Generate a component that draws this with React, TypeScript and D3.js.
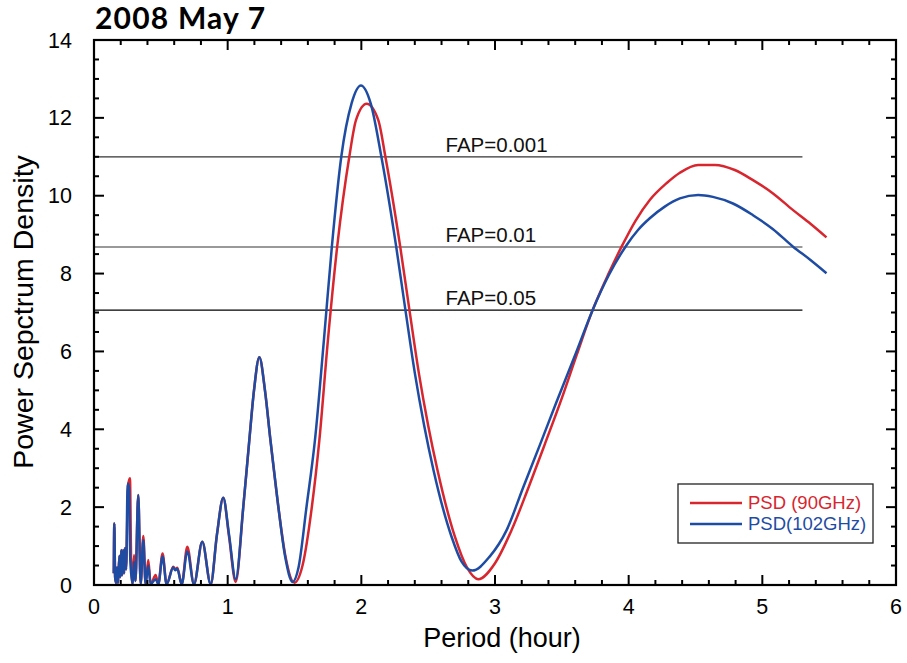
import React from 'react';
import * as d3 from 'd3';

// Period (hour) / PSD pairs
const psd90: [number, number][] = [
  [0.148, 0.3], [0.152, 1.58], [0.158, 0.2], [0.165, 0.05], [0.172, 0.45], [0.18, 0.05],
  [0.19, 0.75], [0.197, 0.2], [0.204, 0.9], [0.21, 0.25], [0.218, 0.9], [0.225, 0.3],
  [0.232, 0.95], [0.24, 0.4], [0.255, 2.55], [0.269, 2.74], [0.278, 0.6], [0.289, 0.03],
  [0.3, 0.77], [0.31, 0.1], [0.331, 2.31], [0.349, 0.03], [0.369, 1.26], [0.386, 0.03],
  [0.406, 0.64], [0.424, 0.02], [0.461, 0.26], [0.481, 0.02], [0.513, 0.81], [0.543, 0.02],
  [0.593, 0.47], [0.608, 0.4], [0.623, 0.44], [0.656, 0.02], [0.698, 0.98], [0.748, 0.02],
  [0.81, 1.11], [0.873, 0.02], [0.92, 1.3], [0.967, 2.24], [1.01, 1.25], [1.06, 0.08],
  [1.117, 2.01], [1.162, 3.72], [1.197, 5.0], [1.237, 5.85], [1.279, 5.0], [1.32, 3.72],
  [1.379, 2.01], [1.43, 0.78], [1.5, 0.06], [1.56, 0.5], [1.63, 2.01], [1.686, 3.72],
  [1.75, 6.29], [1.82, 8.71], [1.91, 11.0], [1.96, 11.94], [2.04, 12.36], [2.127, 11.94],
  [2.18, 11.0], [2.29, 8.71], [2.36, 7.06], [2.43, 5.45], [2.5, 4.1], [2.57, 2.95],
  [2.7, 1.24], [2.79, 0.45], [2.874, 0.15], [3.0, 0.56], [3.124, 1.41], [3.25, 2.5],
  [3.373, 3.62], [3.5, 4.8], [3.61, 5.9], [3.73, 7.06], [3.85, 8.0], [3.95, 8.71],
  [4.05, 9.35], [4.158, 9.89], [4.283, 10.32], [4.383, 10.59], [4.52, 10.79], [4.645, 10.79],
  [4.794, 10.66], [4.93, 10.4], [5.08, 10.06], [5.23, 9.63], [5.36, 9.28], [5.48, 8.93],
];

const psd102: [number, number][] = [
  [0.148, 0.3], [0.152, 1.58], [0.158, 0.2], [0.165, 0.05], [0.172, 0.45], [0.18, 0.05],
  [0.19, 0.75], [0.197, 0.2], [0.204, 0.9], [0.21, 0.25], [0.218, 0.9], [0.225, 0.3],
  [0.232, 0.95], [0.24, 0.4], [0.252, 2.61], [0.262, 2.5], [0.272, 0.6], [0.289, 0.03],
  [0.3, 0.6], [0.31, 0.1], [0.331, 2.31], [0.349, 0.03], [0.369, 1.15], [0.386, 0.03],
  [0.406, 0.5], [0.424, 0.02], [0.461, 0.15], [0.481, 0.02], [0.513, 0.73], [0.543, 0.02],
  [0.593, 0.45], [0.608, 0.38], [0.623, 0.42], [0.656, 0.02], [0.698, 0.86], [0.748, 0.02],
  [0.81, 1.11], [0.873, 0.02], [0.92, 1.3], [0.967, 2.24], [1.01, 1.3], [1.06, 0.15],
  [1.117, 2.01], [1.162, 3.72], [1.197, 5.0], [1.237, 5.85], [1.279, 5.0], [1.32, 3.72],
  [1.379, 2.01], [1.43, 0.73], [1.486, 0.08], [1.53, 0.45], [1.59, 2.01], [1.653, 3.72],
  [1.72, 6.29], [1.78, 8.71], [1.85, 11.0], [1.927, 12.37], [1.997, 12.83], [2.07, 12.37],
  [2.15, 11.0], [2.26, 8.71], [2.33, 7.06], [2.4, 5.45], [2.47, 4.1], [2.54, 2.95],
  [2.675, 1.24], [2.75, 0.6], [2.83, 0.37], [2.96, 0.73], [3.087, 1.41], [3.21, 2.5],
  [3.336, 3.6], [3.46, 4.7], [3.61, 6.0], [3.73, 7.06], [3.85, 7.95], [3.98, 8.71],
  [4.07, 9.12], [4.158, 9.42], [4.27, 9.72], [4.383, 9.93], [4.52, 10.02], [4.63, 9.97],
  [4.78, 9.8], [4.93, 9.5], [5.08, 9.14], [5.23, 8.69], [5.36, 8.35], [5.48, 8.01],
];

const fapLevels = [11.0, 8.68, 7.06];
const fapLabels = ['FAP=0.001', 'FAP=0.01', 'FAP=0.05'];
const fapColors = ['#333', '#777', '#000'];
const fapEnd = 5.3;
const fapLabelAt = 2.63;

const xTicks = [0, 1, 2, 3, 4, 5, 6];
const yTicks = [0, 2, 4, 6, 8, 10, 12, 14];

const RED = '#d8262f';
const BLUE = '#1f4ca3';

const W = 907;
const H = 663;
const left = 94;
const right = 896;
const top = 40;
const bottom = 585;

export default function App() {
  const x = d3.scaleLinear().domain([0, 6]).range([left, right]);
  const y = d3.scaleLinear().domain([0, 14]).range([bottom, top]);

  const line = d3
    .line<[number, number]>()
    .x((d) => x(d[0]))
    .y((d) => y(d[1]))
    .curve(d3.curveMonotoneX);

  const xMinor = x.ticks(30);
  const yMinor = y.ticks(28);
  const font = '"Liberation Sans", Arial, sans-serif';

  return (
    <svg width={W} height={H} style={{ position: 'absolute', left: 0, top: 0, background: '#fff' }}>
      <text x={95} y={29} fontFamily="Lato, sans-serif" fontWeight={700} fontSize={30} letterSpacing={1.2} fill="#000">
        2008 May 7
      </text>

      {/* FAP levels */}
      {fapLevels.map((v, i) => (
        <g key={i}>
          <line x1={x(0)} x2={x(fapEnd)} y1={y(v)} y2={y(v)} stroke={fapColors[i]} strokeWidth={i === 1 ? 1.5 : 1.2} />
          <text x={x(fapLabelAt)} y={y(v) - 5} fontFamily={font} fontSize={20.5} fill="#111">
            {fapLabels[i]}
          </text>
        </g>
      ))}

      <path d={line(psd90) || ''} fill="none" stroke={RED} strokeWidth={2.5} strokeLinejoin="round" />
      <path d={line(psd102) || ''} fill="none" stroke={BLUE} strokeWidth={2.5} strokeLinejoin="round" />

      {/* ticks, inward on all sides */}
      {xMinor.map((t) => {
        const major = Math.abs(t - Math.round(t)) < 1e-6;
        const len = major ? 10 : 5;
        return (
          <g key={'x' + t} stroke="#000" strokeWidth={2}>
            <line x1={x(t)} x2={x(t)} y1={bottom} y2={bottom - len} />
            <line x1={x(t)} x2={x(t)} y1={top} y2={top + len} />
          </g>
        );
      })}
      {yMinor.map((t) => {
        const major = Math.abs(t / 2 - Math.round(t / 2)) < 1e-6;
        const len = major ? 10 : 5;
        return (
          <g key={'y' + t} stroke="#000" strokeWidth={2}>
            <line x1={left} x2={left + len} y1={y(t)} y2={y(t)} />
            <line x1={right} x2={right - len} y1={y(t)} y2={y(t)} />
          </g>
        );
      })}
      <rect x={left} y={top} width={right - left} height={bottom - top} fill="none" stroke="#000" strokeWidth={2.2} />

      {xTicks.map((t) => (
        <text key={'xl' + t} x={x(t)} y={614} textAnchor="middle" fontFamily={font} fontSize={21.5} fill="#000">
          {t}
        </text>
      ))}
      {yTicks.map((t) => (
        <text key={'yl' + t} x={72} y={y(t)} dy="0.35em" textAnchor="end" fontFamily={font} fontSize={21.5} fill="#000">
          {t}
        </text>
      ))}

      <text x={502} y={647} textAnchor="middle" fontFamily={font} fontSize={27} fill="#000">
        Period (hour)
      </text>
      <text
        transform={`translate(33, 312) rotate(-90)`}
        textAnchor="middle"
        fontFamily={font}
        fontSize={28.5}
        fill="#000"
      >
        Power Sepctrum Density
      </text>

      {/* legend */}
      <rect x={678} y={484} width={195} height={59} fill="#fff" stroke="#222" strokeWidth={1.3} />
      <line x1={690} x2={742} y1={503} y2={503} stroke={RED} strokeWidth={2.5} />
      <line x1={690} x2={742} y1={524} y2={524} stroke={BLUE} strokeWidth={2.5} />
      <text x={748} y={503} dy="0.35em" fontFamily={font} fontSize={18.5} fill={RED}>
        PSD (90GHz)
      </text>
      <text x={748} y={524} dy="0.35em" fontFamily={font} fontSize={18.5} fill={BLUE}>
        PSD(102GHz)
      </text>
    </svg>
  );
}
